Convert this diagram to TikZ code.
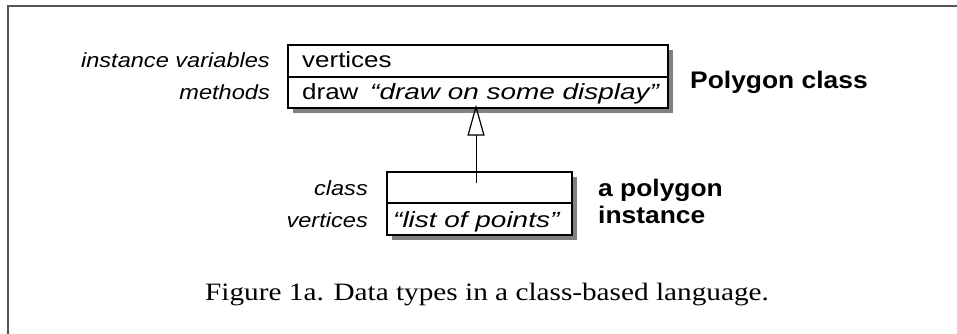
\documentclass[tikz,border=0pt]{standalone}
\usepackage{fontspec}
\usetikzlibrary{arrows.meta,shadows}
\newfontfamily\labf[FakeStretch=1.15]{Liberation Sans}
\newfontfamily\boxf[FakeStretch=1.18]{Liberation Sans}
\newfontfamily\boxif[FakeStretch=1.27]{Liberation Sans}
\newfontfamily\boldf[FakeStretch=1.1]{Liberation Sans}
\newfontfamily\capf[FakeStretch=1.17]{Liberation Serif}
\definecolor{framegray}{HTML}{555555}
\definecolor{shadowgray}{HTML}{808080}
\tikzset{
  umlbox/.style={draw=black, line width=1.2pt, fill=white, inner sep=0pt,
    drop shadow={shadow xshift=5pt, shadow yshift=-5pt, fill=shadowgray, opacity=1}},
  lab/.style={inner sep=0pt, font=\labf\fontsize{20.5}{24}\selectfont\itshape, anchor=base east},
  intext/.style={inner sep=0pt, font=\boxf\fontsize{22}{26}\selectfont, anchor=base west},
  initext/.style={inner sep=0pt, font=\boxif\fontsize{22}{26}\selectfont\itshape, anchor=base west},
  title/.style={inner sep=0pt, font=\boldf\fontsize{24}{27}\selectfont\bfseries, anchor=base west, align=left},
  captext/.style={inner sep=0pt, font=\capf\fontsize{25}{30}\selectfont, anchor=base west},
}
\begin{document}
\begin{tikzpicture}[x=1pt,y=-1pt]
\useasboundingbox (0,0) rectangle (957,333);
% frame
\draw[framegray, line width=2pt] (8,334) -- (8,6) -- (958,6);
% class box
\node[umlbox, minimum width=380pt, minimum height=63pt] (cls) at (478,76.5) {};
\draw[line width=1.2pt] (cls.west |- 0,77) -- (cls.east |- 0,77);
\node[intext] (cv) at (302,67) {vertices};
\node[intext] (cd) at (302,99) {draw};
\node[initext] (cds) at (370,99) {“draw on some display”};
\node[lab] (liv) at (270,67) {instance variables};
\node[lab] (lm) at (270,99) {methods};
\node[title] (pc) at (690,88) {Polygon class};
% instance box
\node[umlbox, minimum width=185pt, minimum height=63pt] (inst) at (479.5,203.5) {};
\draw[line width=1.2pt] (inst.west |- 0,203) -- (inst.east |- 0,203);
\node[lab] (lc) at (368,195) {class};
\node[lab] (lv) at (368,227) {vertices};
\node[initext] (lp) at (393,227) {“list of points”};
\node[title] (pi) at (598,196) {a polygon};
\node[title] (pi2) at (598,223) {instance};
% inheritance arrow
\coordinate (tail) at (476,183);
\draw[line width=1pt, -{Triangle[open, length=31pt, width=17pt, line width=1.2pt]}, shorten >=-4pt] (tail) -- (tail |- cls.south);
% caption
\node[captext] (cap) at (205,300) {Figure 1a. Data types in a class-based language.};
\end{tikzpicture}
\end{document}
